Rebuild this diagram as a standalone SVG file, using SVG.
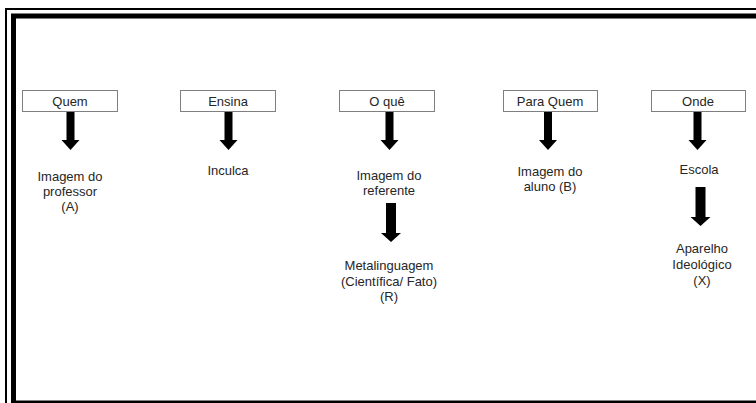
<svg xmlns="http://www.w3.org/2000/svg" width="756" height="403" viewBox="0 0 756 403">
<style>
.box{fill:#fff;stroke:#7f7f7f;stroke-width:1}
.lbl{font-family:"Liberation Sans",Arial,sans-serif;font-size:13px;fill:#262626;text-anchor:middle}
.arr{fill:#000}
</style>
<defs>
<path id="arrS" d="M-4,0 H4 V28 H9 L0,38 L-9,28 H-4 Z"/>
<path id="arrL" d="M-5,0 H5 V30 H10 L0,39 L-10,30 H-5 Z"/>
</defs>
<rect width="756" height="403" fill="#fff"/>
<g id="frame" fill="none" stroke="#000">
<rect x="6" y="9" width="800" height="420" stroke-width="2"/>
<rect x="13.5" y="16" width="800" height="387" stroke-width="5"/>
</g>
<g id="quem"><rect class="box" x="22.5" y="90.5" width="95" height="21"/><text class="lbl" x="70" y="105.5">Quem</text></g>
<g id="ensina"><rect class="box" x="180.5" y="90.5" width="95" height="21"/><text class="lbl" x="228" y="105.5">Ensina</text></g>
<g id="oque"><rect class="box" x="339.5" y="90.5" width="95" height="21"/><text class="lbl" x="387" y="105.5">O quê</text></g>
<g id="paraquem"><rect class="box" x="503.5" y="90.5" width="94" height="21"/><text class="lbl" x="550" y="105.5">Para Quem</text></g>
<g id="onde"><rect class="box" x="651.5" y="90.5" width="94" height="21"/><text class="lbl" x="698" y="105.5">Onde</text></g>
<g id="imgprof"><text class="lbl" x="70" y="181">Imagem do</text><text class="lbl" x="70" y="196">professor</text><text class="lbl" x="70" y="211">(A)</text></g>
<g id="inculca"><text class="lbl" x="228" y="175">Inculca</text></g>
<g id="imgref"><text class="lbl" x="389" y="180">Imagem do</text><text class="lbl" x="389" y="195">referente</text></g>
<g id="meta"><text class="lbl" x="389" y="270">Metalinguagem</text><text class="lbl" x="389" y="286">(Científica/ Fato)</text><text class="lbl" x="389" y="301">(R)</text></g>
<g id="imgaluno"><text class="lbl" x="550" y="176">Imagem do</text><text class="lbl" x="550" y="191">aluno (B)</text></g>
<g id="escola"><text class="lbl" x="699" y="174">Escola</text></g>
<g id="aparelho"><text class="lbl" x="702" y="253">Aparelho</text><text class="lbl" x="702" y="269">Ideológico</text><text class="lbl" x="702" y="285">(X)</text></g>
<g id="connectors" class="arr">
<use href="#arrS" x="70.5" y="112"/>
<use href="#arrS" x="228.5" y="112"/>
<use href="#arrS" x="389.5" y="112"/>
<use href="#arrS" x="548" y="112"/>
<use href="#arrS" x="697.5" y="112"/>
<use href="#arrL" x="391" y="203"/>
<use href="#arrL" x="700.5" y="187"/>
</g>
</svg>
